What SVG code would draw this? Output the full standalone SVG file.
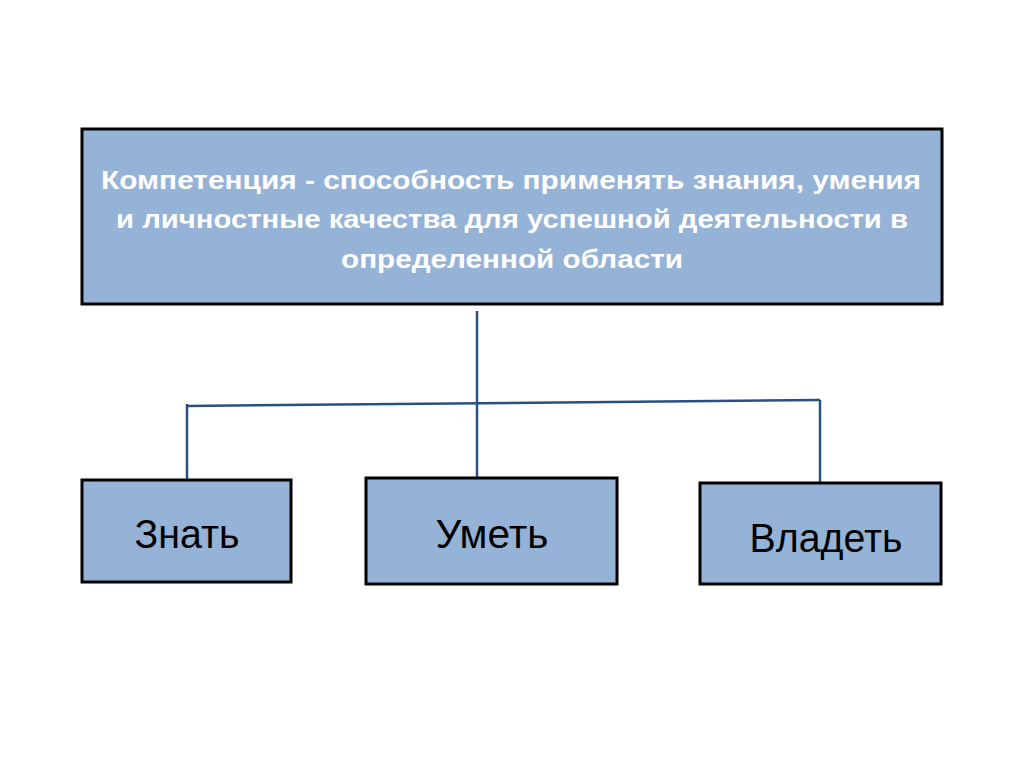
<svg xmlns="http://www.w3.org/2000/svg" width="1024" height="768" viewBox="0 0 1024 768">
<style>
.box{fill:#95b3d7;stroke:#000;stroke-width:3}
.conn{stroke:#2a5080;stroke-width:2.5;fill:none}
.head{font-family:"Liberation Sans",Arial,sans-serif;font-weight:bold;font-size:26px;fill:#fff;text-anchor:middle}
.lbl{font-family:"Liberation Sans",Arial,sans-serif;font-size:40px;fill:#000;text-anchor:middle}
</style>
<rect width="1024" height="768" fill="#fff"/>
<g id="connectors">
<line class="conn" x1="477" y1="311" x2="477" y2="478"/>
<line class="conn" x1="187" y1="406" x2="820" y2="400"/>
<line class="conn" x1="187" y1="404" x2="187" y2="480"/>
<line class="conn" x1="820" y1="400" x2="820" y2="483"/>
</g>
<g id="node-competence">
<rect class="box" x="82" y="129" width="860" height="175"/>
<text class="head" x="511" y="189" textLength="820" lengthAdjust="spacingAndGlyphs">Компетенция - способность применять знания, умения</text>
<text class="head" x="512" y="228" textLength="792" lengthAdjust="spacingAndGlyphs">и личностные качества для успешной деятельности в</text>
<text class="head" x="512" y="268" textLength="342" lengthAdjust="spacingAndGlyphs">определенной области</text>
</g>
<g id="node-know">
<rect class="box" x="82" y="480" width="209" height="102"/>
<text class="lbl" x="187" y="548" textLength="105" lengthAdjust="spacingAndGlyphs">Знать</text>
</g>
<g id="node-can">
<rect class="box" x="366" y="478" width="251" height="106"/>
<text class="lbl" x="492" y="548" textLength="113" lengthAdjust="spacingAndGlyphs">Уметь</text>
</g>
<g id="node-own">
<rect class="box" x="700" y="483" width="241" height="101"/>
<text class="lbl" x="826" y="552" textLength="153" lengthAdjust="spacingAndGlyphs">Владеть</text>
</g>
</svg>
